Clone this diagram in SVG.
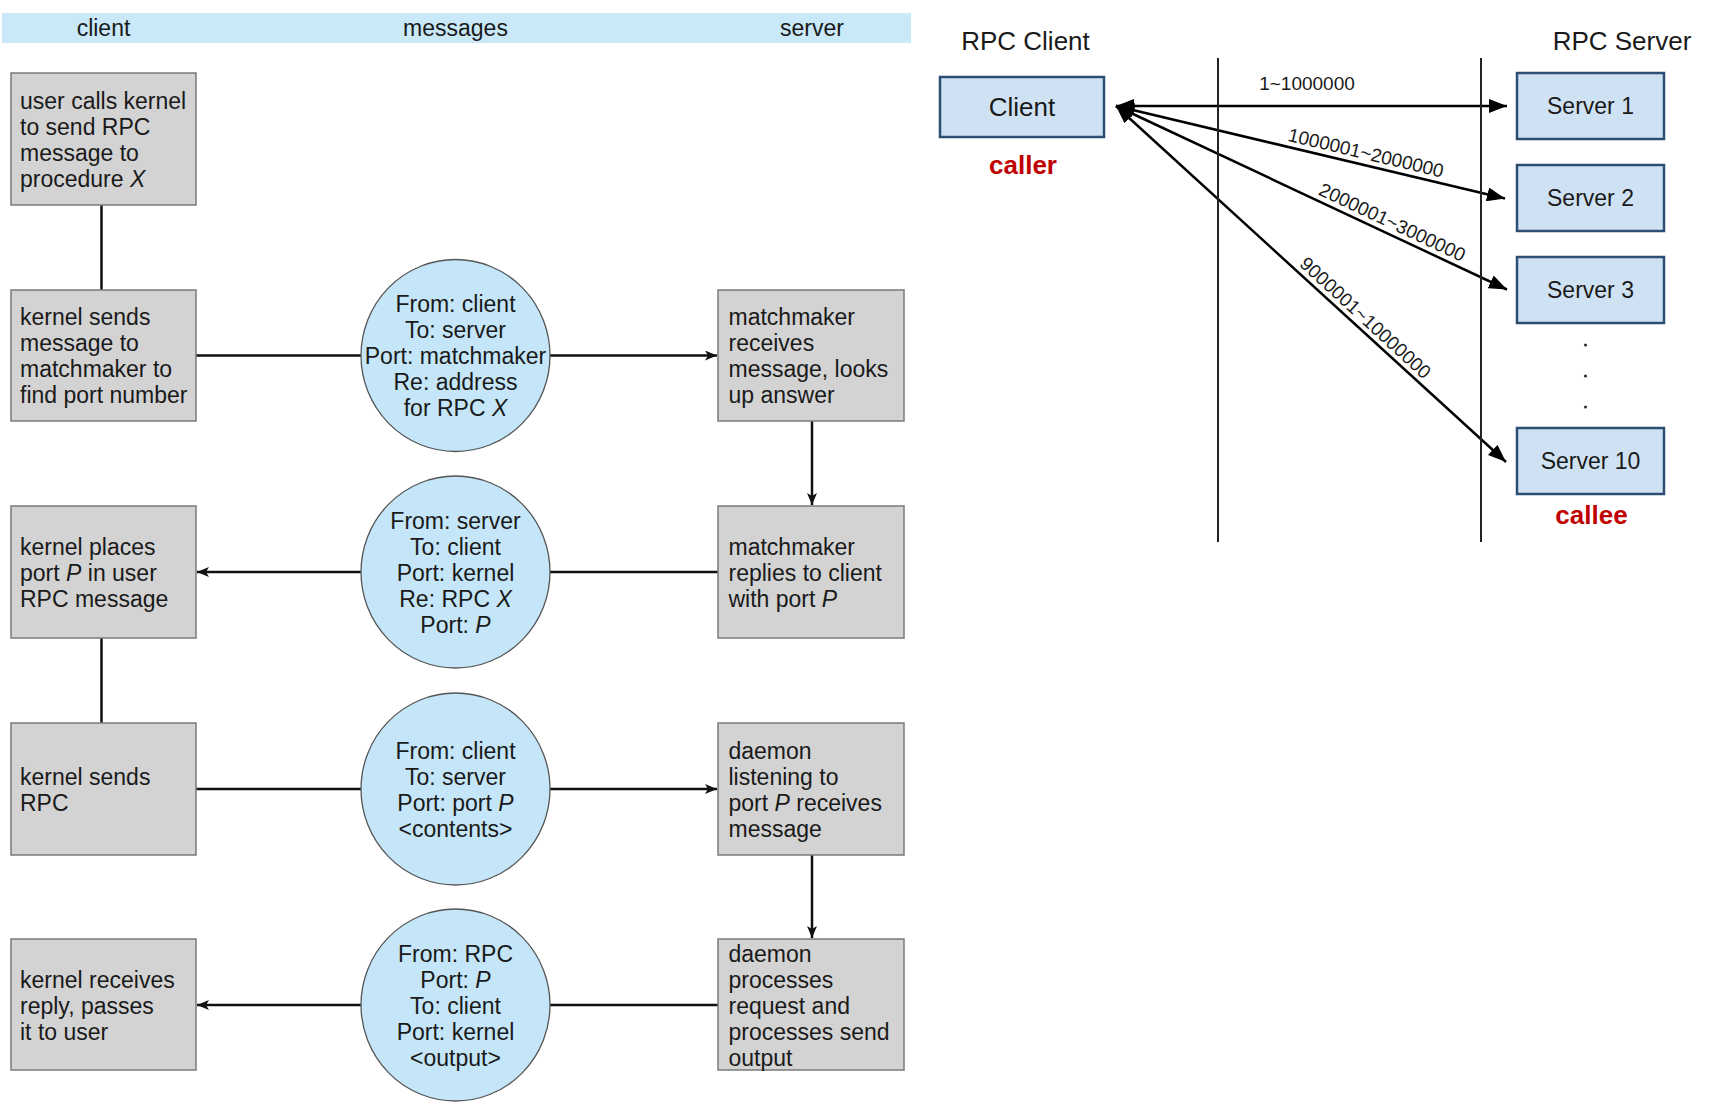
<svg xmlns="http://www.w3.org/2000/svg" width="1712" height="1112" viewBox="0 0 1712 1112">
<style>
text{font-family:"Liberation Sans",Arial,sans-serif;fill:#1a1a1a}
.t{font-size:23px}
.c{font-size:23px;text-anchor:middle}
.box{fill:#d3d3d3;stroke:#7a7a7a;stroke-width:1.5}
.msg{fill:#c4e6f8;stroke:#555;stroke-width:1.3}
.ln{stroke:#111;stroke-width:2.5;fill:none}
.rb{fill:#cfe2f3;stroke:#2d4e73;stroke-width:2.5}
.rt{font-size:23px;text-anchor:middle}
.hd{font-size:26px;text-anchor:middle}
.red{font-size:26px;font-weight:bold;fill:#c00000;text-anchor:middle}
.lab{font-size:19px;text-anchor:middle}
.ra{stroke:#000;stroke-width:2.5;fill:none}
.i{font-style:italic}
</style>
<defs>
<marker id="a" viewBox="0 0 12 10" markerWidth="12" markerHeight="10" refX="12" refY="5" orient="auto" markerUnits="userSpaceOnUse"><path d="M0,0 L12,5 L0,10 L3,5 z" fill="#111"/></marker>
<marker id="b" viewBox="0 0 18 14" markerWidth="18" markerHeight="14" refX="18" refY="7" orient="auto-start-reverse" markerUnits="userSpaceOnUse"><path d="M0,0 L18,7 L0,14 z" fill="#000"/></marker>
</defs>
<rect x="2" y="13" width="909" height="30" fill="#c9e9f9"/>
<text class="c" x="103.5" y="36">client</text>
<text class="c" x="455.5" y="36">messages</text>
<text class="c" x="812" y="36">server</text>
<g id="connectors">
<path class="ln" d="M101.5,205 V290"/>
<path class="ln" d="M101.5,638 V723"/>
<path class="ln" d="M196,355.5 H361"/>
<path class="ln" d="M550,355.5 H717" marker-end="url(#a)"/>
<path class="ln" d="M812,421 V505" marker-end="url(#a)"/>
<path class="ln" d="M718,572 H550"/>
<path class="ln" d="M361,572 H197" marker-end="url(#a)"/>
<path class="ln" d="M196,789 H361"/>
<path class="ln" d="M550,789 H717" marker-end="url(#a)"/>
<path class="ln" d="M812,855 V938" marker-end="url(#a)"/>
<path class="ln" d="M718,1005 H550"/>
<path class="ln" d="M361,1005 H197" marker-end="url(#a)"/>
<path class="ra" d="M1116,106 H1507" marker-start="url(#b)" marker-end="url(#b)"/>
<path class="ra" d="M1116,106 L1505,198.5" marker-start="url(#b)" marker-end="url(#b)"/>
<path class="ra" d="M1116,106 L1507,289.5" marker-start="url(#b)" marker-end="url(#b)"/>
<path class="ra" d="M1116,106 L1506,462" marker-start="url(#b)" marker-end="url(#b)"/>
<text class="lab" x="1307" y="90">1~1000000</text>
<text class="lab" transform="translate(1363,165) rotate(13.4)" y="-6">1000001~2000000</text>
<text class="lab" transform="translate(1387,233.5) rotate(25.2)" y="-6">2000001~3000000</text>
<text class="lab" transform="translate(1357,327) rotate(42.5)" y="-6">9000001~10000000</text>
</g>
<g id="n1"><rect class="box" x="11" y="73" width="185" height="132"/>
<text class="t" x="20" y="108.5">user calls kernel</text><text class="t" x="20" y="134.5">to send RPC</text><text class="t" x="20" y="160.5">message to</text><text class="t" x="20" y="186.5">procedure <tspan class="i">X</tspan></text></g>
<g id="n2"><rect class="box" x="11" y="290" width="185" height="131"/>
<text class="t" x="20" y="325">kernel sends</text><text class="t" x="20" y="351">message to</text><text class="t" x="20" y="377">matchmaker to</text><text class="t" x="20" y="403">find port number</text></g>
<g id="m1"><ellipse class="msg" cx="455.5" cy="355.5" rx="94.5" ry="96"/>
<text class="c" x="455.5" y="311.5">From: client</text><text class="c" x="455.5" y="337.5">To: server</text><text class="c" x="455.5" y="363.5">Port: matchmaker</text><text class="c" x="455.5" y="389.5">Re: address</text><text class="c" x="455.5" y="415.5">for RPC <tspan class="i">X</tspan></text></g>
<g id="s1"><rect class="box" x="718" y="290" width="186" height="131"/>
<text class="t" x="728.5" y="325">matchmaker</text><text class="t" x="728.5" y="351">receives</text><text class="t" x="728.5" y="377">message, looks</text><text class="t" x="728.5" y="403">up answer</text></g>
<g id="n3"><rect class="box" x="11" y="506" width="185" height="132"/>
<text class="t" x="20" y="554.5">kernel places</text><text class="t" x="20" y="580.5">port <tspan class="i">P</tspan> in user</text><text class="t" x="20" y="606.5">RPC message</text></g>
<g id="m2"><ellipse class="msg" cx="455.5" cy="572" rx="94.5" ry="96"/>
<text class="c" x="455.5" y="528.5">From: server</text><text class="c" x="455.5" y="554.5">To: client</text><text class="c" x="455.5" y="580.5">Port: kernel</text><text class="c" x="455.5" y="606.5">Re: RPC <tspan class="i">X</tspan></text><text class="c" x="455.5" y="632.5">Port: <tspan class="i">P</tspan></text></g>
<g id="s2"><rect class="box" x="718" y="506" width="186" height="132"/>
<text class="t" x="728.5" y="554.5">matchmaker</text><text class="t" x="728.5" y="580.5">replies to client</text><text class="t" x="728.5" y="606.5">with port <tspan class="i">P</tspan></text></g>
<g id="n4"><rect class="box" x="11" y="723" width="185" height="132"/>
<text class="t" x="20" y="784.5">kernel sends</text><text class="t" x="20" y="810.5">RPC</text></g>
<g id="m3"><ellipse class="msg" cx="455.5" cy="789" rx="94.5" ry="96"/>
<text class="c" x="455.5" y="758.5">From: client</text><text class="c" x="455.5" y="784.5">To: server</text><text class="c" x="455.5" y="810.5">Port: port <tspan class="i">P</tspan></text><text class="c" x="455.5" y="836.5">&lt;contents&gt;</text></g>
<g id="s3"><rect class="box" x="718" y="723" width="186" height="132"/>
<text class="t" x="728.5" y="758.5">daemon</text><text class="t" x="728.5" y="784.5">listening to</text><text class="t" x="728.5" y="810.5">port <tspan class="i">P</tspan> receives</text><text class="t" x="728.5" y="836.5">message</text></g>
<g id="n5"><rect class="box" x="11" y="939" width="185" height="131"/>
<text class="t" x="20" y="988">kernel receives</text><text class="t" x="20" y="1014">reply, passes</text><text class="t" x="20" y="1040">it to user</text></g>
<g id="m4"><ellipse class="msg" cx="455.5" cy="1005" rx="94.5" ry="96"/>
<text class="c" x="455.5" y="962">From: RPC</text><text class="c" x="455.5" y="988">Port: <tspan class="i">P</tspan></text><text class="c" x="455.5" y="1014">To: client</text><text class="c" x="455.5" y="1040">Port: kernel</text><text class="c" x="455.5" y="1066">&lt;output&gt;</text></g>
<g id="s4"><rect class="box" x="718" y="939" width="186" height="131"/>
<text class="t" x="728.5" y="962">daemon</text><text class="t" x="728.5" y="988">processes</text><text class="t" x="728.5" y="1014">request and</text><text class="t" x="728.5" y="1040">processes send</text><text class="t" x="728.5" y="1066">output</text></g>
<g id="lanes">
<line x1="1218" y1="58" x2="1218" y2="542" stroke="#222" stroke-width="2"/>
<line x1="1481" y1="58" x2="1481" y2="542" stroke="#222" stroke-width="2"/>
</g>
<text class="hd" x="1025.5" y="50">RPC Client</text>
<text class="hd" x="1622" y="50">RPC Server</text>
<g id="client"><rect class="rb" x="940" y="77" width="164" height="60"/><text class="hd" x="1022" y="116">Client</text></g>
<text class="red" x="1023" y="174">caller</text>
<g id="srv1"><rect class="rb" x="1517" y="73" width="147" height="66"/><text class="rt" x="1590.5" y="114">Server 1</text></g>
<g id="srv2"><rect class="rb" x="1517" y="165" width="147" height="66"/><text class="rt" x="1590.5" y="206">Server 2</text></g>
<g id="srv3"><rect class="rb" x="1517" y="257" width="147" height="66"/><text class="rt" x="1590.5" y="298">Server 3</text></g>
<g id="srv10"><rect class="rb" x="1517" y="428" width="147" height="66"/><text class="rt" x="1590.5" y="469">Server 10</text></g>
<circle cx="1585.5" cy="345" r="1.6" fill="#333"/>
<circle cx="1585.5" cy="376" r="1.6" fill="#333"/>
<circle cx="1585.5" cy="407" r="1.6" fill="#333"/>
<text class="red" x="1591.5" y="524">callee</text>
</svg>
